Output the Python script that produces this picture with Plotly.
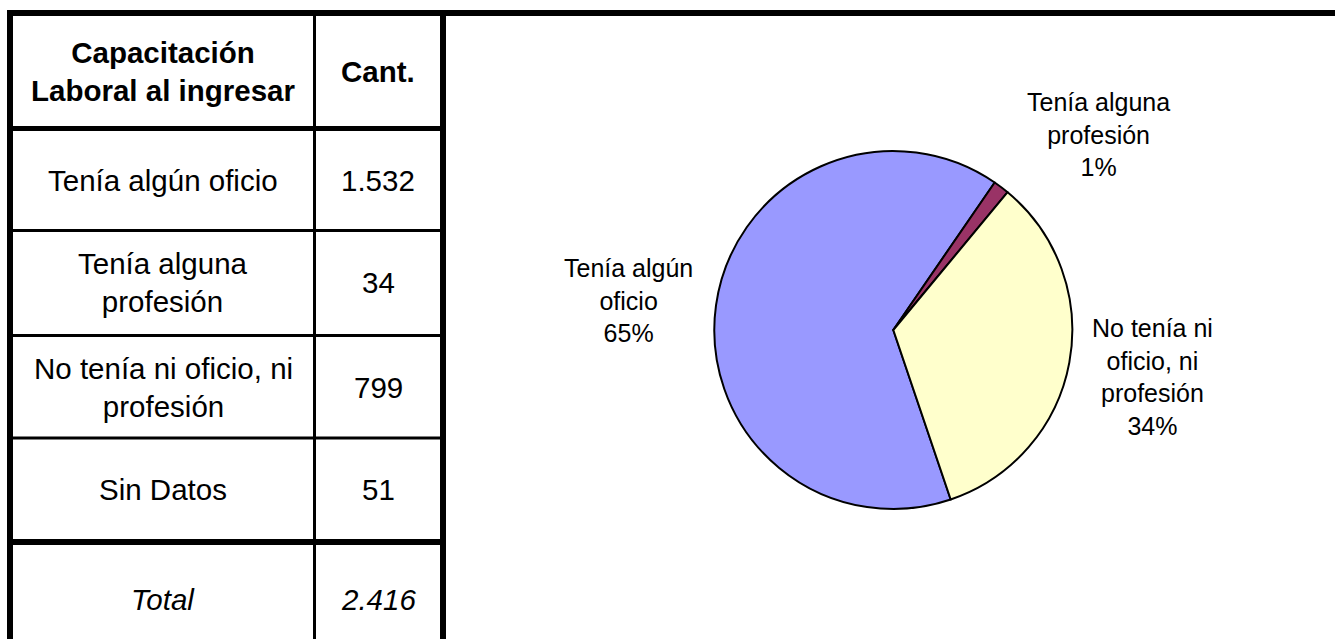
import plotly.graph_objects as go

# ---- data ----
table_header = ["<b>Capacitación<br>Laboral al ingresar</b>", "<b>Cant.</b>"]
table_categories = ["Tenía algún oficio", "Tenía alguna<br>profesión",
                    "No tenía ni oficio, ni<br>profesión", "Sin Datos"]
table_values = ["1.532", "34", "799", "51"]
total_label = "Total"
total_value = "2.416"

pie_labels = ["Tenía algún oficio", "Tenía alguna profesión", "No tenía ni oficio, ni profesión"]
pie_label_text = ["Tenía algún<br>oficio", "Tenía alguna<br>profesión", "No tenía ni<br>oficio, ni<br>profesión"]
pie_values = [1532, 34, 799]
pie_colors = ["#9999FF", "#993366", "#FFFFCC"]

W, H = 1335, 639
FONT = "Arial, 'Liberation Sans', sans-serif"


def px(x):
    return x / W


def py(y):
    return 1 - y / H


fig = go.Figure()

# pie
cx, cy, r = 893.3, 330, 179
fig.add_trace(go.Pie(
    labels=pie_labels, values=pie_values, sort=False, direction="clockwise",
    rotation=161.3, textinfo="none", showlegend=False,
    marker=dict(colors=pie_colors, line=dict(color="black", width=2)),
    domain=dict(x=[px(cx - r), px(cx + r)], y=[py(cy + r), py(cy - r)]),
))

total = sum(pie_values)
label_pos = [(628, 300), (1098, 135), (1152, 377)]
annotations = []
for txt, v, (lx, ly) in zip(pie_label_text, pie_values, label_pos):
    pct = round(v / total * 100)
    annotations.append(dict(
        x=px(lx), y=py(ly), xref="paper", yref="paper", showarrow=False,
        text=f"{txt}<br>{pct}%", xanchor="center", yanchor="middle",
        font=dict(family=FONT, size=25, color="black"), align="center"))

# table text
col1_x, col2_x = 163, 378
row_centers = [71, 180, 283, 387, 489]
total_y = 599
tf = dict(family=FONT, size=29.5, color="black")
annotations.append(dict(x=px(col1_x), y=py(row_centers[0]), text=table_header[0]))
annotations.append(dict(x=px(col2_x), y=py(row_centers[0]), text=table_header[1]))
for cat, val, yc in zip(table_categories, table_values, row_centers[1:]):
    annotations.append(dict(x=px(col1_x), y=py(yc), text=cat))
    annotations.append(dict(x=px(col2_x), y=py(yc), text=val))
annotations.append(dict(x=px(col1_x), y=py(total_y), text=f"<i>{total_label}</i>"))
annotations.append(dict(x=px(col2_x), y=py(total_y), text=f"<i>{total_value}</i>"))
for a in annotations[3:]:
    a.update(xref="paper", yref="paper", showarrow=False, xanchor="center",
             yanchor="middle", font=tf, align="center")

# table lines
shapes = []


def hline(y, x0, x1, w):
    shapes.append(dict(type="line", xref="paper", yref="paper", x0=px(x0), x1=px(x1),
                       y0=py(y), y1=py(y), line=dict(color="black", width=w)))


def vline(x, y0, y1, w):
    shapes.append(dict(type="line", xref="paper", yref="paper", x0=px(x), x1=px(x),
                       y0=py(y0), y1=py(y1), line=dict(color="black", width=w)))


hline(13, 7, W, 6)
vline(10, 10, H, 6)
vline(443, 10, H, 6)
vline(314.5, 13, H, 3)
hline(128.5, 10, 443, 5)
hline(230.5, 10, 443, 3)
hline(335.5, 10, 443, 3)
hline(438, 10, 443, 3)
hline(542, 10, 443, 6)

fig.update_layout(
    width=W, height=H, margin=dict(l=0, r=0, t=0, b=0),
    paper_bgcolor="white", plot_bgcolor="white",
    annotations=annotations, shapes=shapes,
)

fig.write_html("out.html", config={"displayModeBar": False},
               post_script="document.body.style.margin='0';document.body.style.overflow='hidden';")
